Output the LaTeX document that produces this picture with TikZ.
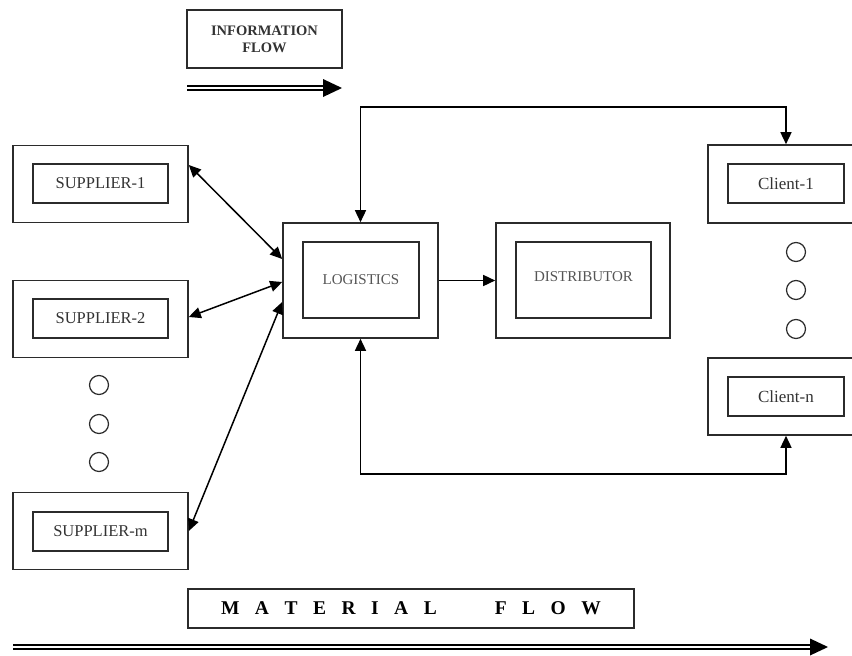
\documentclass[tikz,border=0pt]{standalone}
\usepackage{fontspec}
\setmainfont{Liberation Serif}
\usetikzlibrary{arrows.meta}

\definecolor{boxline}{HTML}{2B2B2B}
\definecolor{labeltext}{HTML}{333333}
\definecolor{softtext}{HTML}{555555}

% spacing inside the letter-spaced MATERIAL FLOW caption
\newcommand\lsp{\hspace{15.5pt}}
\newcommand\wsp{\hspace{58pt}}

\begin{document}
\begin{tikzpicture}[x=1pt,y=-1pt,
  >={Triangle[length=12pt,width=11pt]},
  outerbox/.style={draw=boxline, line width=1.6pt, inner sep=0pt},
  innerbox/.style={draw=boxline, line width=1.6pt, inner sep=0pt, text=labeltext},
  smallbox/.style={innerbox, minimum width=135pt, minimum height=39pt},
  dot/.style={circle, draw=boxline, line width=1.2pt, minimum size=19pt, inner sep=0pt},
  link/.style={line width=1.5pt, draw=black},
  flowline/.style={line width=2pt, double distance=2.8pt, draw=black},
  lbl/.style={font=\fontsize{16.5}{18}\selectfont},
  clbl/.style={font=\fontsize{17}{19}\selectfont},
  blbl/.style={font=\fontsize{15}{17}\selectfont, text=softtext},
]
\useasboundingbox (0,0) rectangle (852,656);
\clip (0,0) rectangle (852,656);

% legend: information flow
\node[outerbox, minimum width=155pt, minimum height=58pt, align=center,
      font=\bfseries\fontsize{14.5}{17}\selectfont, text=labeltext]
  (info) at (264.5,39) {INFORMATION\\FLOW};
\coordinate (if0) at (187,88);
\coordinate (if1) at (342,88);
\draw[flowline] (if0) -- ([xshift=-17pt]if1);
\fill ([xshift=-19pt,yshift=9pt]if1) -- (if1) -- ([xshift=-19pt,yshift=-9pt]if1) -- cycle;

% suppliers
\node[outerbox, minimum width=175pt, minimum height=77pt] (S1o) at (100.5,184) {};
\node[smallbox, lbl] (S1) at (100.5,183.5) {SUPPLIER-1};
\node[outerbox, minimum width=175pt, minimum height=77pt] (S2o) at (100.5,319) {};
\node[smallbox, lbl] (S2) at (100.5,318.5) {SUPPLIER-2};
\node[outerbox, minimum width=175pt, minimum height=77pt] (Smo) at (100.5,531) {};
\node[smallbox, lbl] (Sm) at (100.5,531.5) {SUPPLIER-m};
\node[dot] (sd1) at (99,385) {};
\node[dot] (sd2) at (99,424) {};
\node[dot] (sd3) at (99,462) {};

% logistics and distributor
\node[outerbox, minimum width=155pt, minimum height=115pt] (Lo) at (360.5,280.5) {};
\node[innerbox, blbl, minimum width=116pt, minimum height=76pt] (L) at (361,280) {LOGISTICS};
\node[outerbox, minimum width=174pt, minimum height=115pt] (Do) at (583,280.5) {};
\node[innerbox, blbl, minimum width=135pt, minimum height=76pt] (Dbox) at (583.5,280) {};
\node[blbl] (D) at (583.5,277) {DISTRIBUTOR};

% clients
\node[outerbox, minimum width=156pt, minimum height=78pt] (C1o) at (786,184) {};
\node[innerbox, clbl, minimum width=116pt, minimum height=39pt] (C1) at (786,183.5) {Client-1};
\node[outerbox, minimum width=156pt, minimum height=77pt] (Cno) at (786,396.5) {};
\node[innerbox, clbl, minimum width=116pt, minimum height=39pt] (Cn) at (786,396.5) {Client-n};
\node[dot] (cd1) at (796,252) {};
\node[dot] (cd2) at (796,290) {};
\node[dot] (cd3) at (796,329) {};

% connectors
\draw[link, <->] ([yshift=19pt]S1o.east) -- ([yshift=21.5pt]Lo.west);
\draw[link, <->] ([yshift=2pt]S2o.east) -- ([yshift=-1.5pt]Lo.west);
\draw[link, <->] (Smo.east) -- ([yshift=-21.5pt]Lo.west);
\draw[link, ->] (Lo.east) -- (Do.west);
\draw[link, <->] (Lo.north) -- ++(0,-115) -| (C1o.north);
\draw[link, <->] (Lo.south) -- ++(0,135) -| (Cno.south);

% legend: material flow
\node[outerbox, minimum width=446pt, minimum height=39pt, text=black,
      font=\bfseries\fontsize{19.5}{21}\selectfont]
  (mat) at (411,608.5)
  {M\lsp A\lsp T\lsp E\lsp R\lsp I\lsp A\lsp L\wsp F\lsp L\lsp O\lsp W};
\coordinate (mf0) at (13,647);
\coordinate (mf1) at (828,647);
\draw[flowline] (mf0) -- ([xshift=-16pt]mf1);
\fill ([xshift=-18pt,yshift=8.5pt]mf1) -- (mf1) -- ([xshift=-18pt,yshift=-8.5pt]mf1) -- cycle;
\end{tikzpicture}
\end{document}
